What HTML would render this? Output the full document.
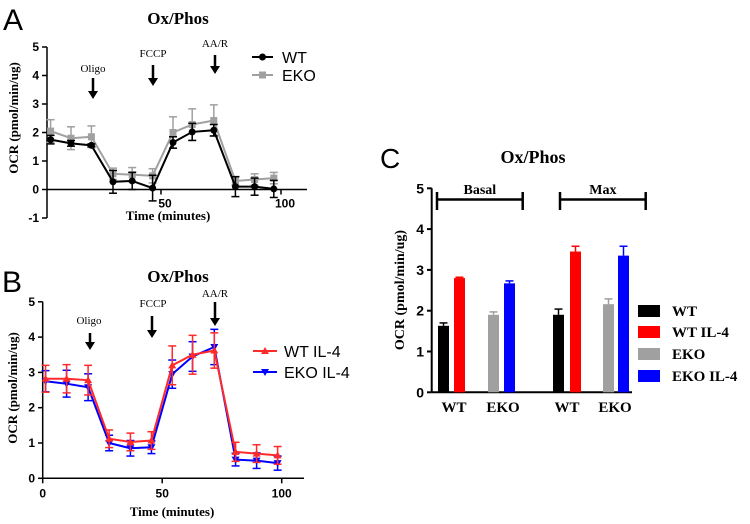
<!DOCTYPE html>
<html><head><meta charset="utf-8"><style>
html,body{margin:0;padding:0;background:#fff}
svg{display:block}
.tk{font-family:"Liberation Sans",Arial,sans-serif}
.sf{font-family:"Liberation Serif",serif}
</style></head><body>
<svg id="chart" width="750" height="524" viewBox="0 0 750 524" xmlns="http://www.w3.org/2000/svg"></svg>
<script>
// Panel A data
const timesA = [4,12.5,21,30,38,46.5,55,63,72,81,89,97];
const wtA = [1.75,1.62,1.55,0.27,0.3,0.05,1.65,2.02,2.08,0.1,0.1,0.02];
const wtAErr = [0.15,0.1,0.05,0.4,0.3,0.45,0.2,0.3,0.2,0.35,0.3,0.3];
const ekoA = [2.05,1.8,1.85,0.55,0.52,0.48,2.0,2.28,2.42,0.3,0.35,0.4];
const ekoAErr = [0.4,0.4,0.38,0.2,0.25,0.25,0.55,0.55,0.55,0.15,0.2,0.2];
const yTicksA = [-1,0,1,2,3,4,5];
const xTicksA = [50,100];
// Panel B data
const timesB = [1.2,10,19,27.8,36.7,45.5,54.2,62.7,71.8,80.7,89.5,98.3];
const wtB = [2.82,2.82,2.78,1.12,1.03,1.07,3.2,3.5,3.62,0.75,0.7,0.65];
const wtBErr = [0.38,0.4,0.42,0.25,0.25,0.25,0.55,0.55,0.5,0.27,0.25,0.25];
const ekoB = [2.75,2.68,2.58,1.0,0.85,0.88,2.95,3.45,3.72,0.53,0.5,0.43];
const ekoBErr = [0.3,0.38,0.38,0.22,0.22,0.18,0.4,0.42,0.5,0.18,0.22,0.2];
const yTicksB = [0,1,2,3,4,5];
const xTicksB = [0,50,100];
// Panel C data
const groupsC = ["Basal","Max"];
const seriesC = ["WT","WT IL-4","EKO","EKO IL-4"];
const colorsC = ["#000000","#ff0000","#a0a0a0","#0000ff"];
const basalVals = [1.63,2.8,1.9,2.67];
const basalErr = [0.07,0.02,0.07,0.06];
const maxVals = [1.9,3.45,2.16,3.35];
const maxErr = [0.14,0.13,0.13,0.23];
const yTicksC = [0,1,2,3,4,5];

const svg = document.getElementById('chart');
const NS = 'http://www.w3.org/2000/svg';
function mk(tag, attrs, parent, text){
  const e = document.createElementNS(NS, tag);
  for (const k in attrs) e.setAttribute(k, attrs[k]);
  if (text !== undefined) e.textContent = text;
  (parent||svg).appendChild(e);
  return e;
}
function txt(x,y,s,cls,size,anchor,name,extra){
  const t = mk('text',Object.assign({x:x,y:y,'class':cls,'font-size':size,'text-anchor':anchor||'middle','font-weight':'bold'},extra||{}),svg,s);
  
  
  return t;
}
function arrow(x,y1,y2,name){
  const g = mk('g',{});
  
  
  mk('line',{x1:x,y1:y1,x2:x,y2:y2-6,stroke:'#000','stroke-width':2.5},g);
  mk('polygon',{points:`${x-5},${y2-8} ${x+5},${y2-8} ${x},${y2}`,fill:'#000'},g);
}
function marker(g,type,x,y,color){
  if(type==='circle') mk('circle',{cx:x,cy:y,r:3.5,fill:color},g);
  else if(type==='square') mk('rect',{x:x-3.5,y:y-3.5,width:7,height:7,fill:color},g);
  else if(type==='up') mk('polygon',{points:`${x-4},${y+3} ${x+4},${y+3} ${x},${y-4}`,fill:color},g);
  else mk('polygon',{points:`${x-4},${y-3} ${x+4},${y-3} ${x},${y+4}`,fill:color},g);
}
function series(xs,ys,errs,sx,sy,color,type,name){
  const g = mk('g',{});
  
  
  xs.forEach((t,i)=>{
    const x=sx(t);
    mk('line',{x1:x,x2:x,y1:sy(ys[i]-errs[i]),y2:sy(ys[i]+errs[i]),stroke:color,'stroke-width':1.5},g);
    [ys[i]-errs[i],ys[i]+errs[i]].forEach(v=>mk('line',{x1:x-4,x2:x+4,y1:sy(v),y2:sy(v),stroke:color,'stroke-width':1.5},g));
  });
  mk('polyline',{points:xs.map((t,i)=>sx(t)+','+sy(ys[i])).join(' '),fill:'none',stroke:color,'stroke-width':2},g);
  xs.forEach((t,i)=>marker(g,type,sx(t),sy(ys[i]),color));
}

// ---------- Panel A ----------
const axA = t => 41 + t*2.4;
const ayA = v => 189.5 - v*28.5;
txt(3,30,'A','tk',30,'start','panel-a-letter',{'font-weight':'normal'});
txt(178,24,'Ox/Phos','sf',17,'middle','panel-a-title');
mk('line',{x1:47,y1:ayA(5),x2:47,y2:ayA(-1),stroke:'#000','stroke-width':1.5});
mk('line',{x1:47,y1:ayA(0),x2:307,y2:ayA(0),stroke:'#000','stroke-width':1.5});
yTicksA.forEach(v=>{mk('line',{x1:42,x2:47,y1:ayA(v),y2:ayA(v),stroke:'#000','stroke-width':1.5});txt(39,ayA(v)+4,String(v),'tk',12,'end','y-tick-a');});
xTicksA.forEach(v=>{mk('line',{x1:axA(v),x2:axA(v),y1:ayA(0),y2:ayA(0)+5,stroke:'#000','stroke-width':1.5});txt(axA(v)+4,ayA(0)+18,String(v),'tk',12,'middle','x-tick-a');});
txt(18,118,'OCR (pmol/min/ug)','sf',13,'middle','y-axis-title-a',{transform:'rotate(-90 18 118)'});
txt(168,220,'Time (minutes)','sf',13,'middle','x-axis-title-a');
txt(93,72,'Oligo','sf',11,'middle','oligo-label-a',{'font-weight':'normal'});
arrow(93,78,99,'oligo-arrow-a');
txt(153,57,'FCCP','sf',11,'middle','fccp-label-a',{'font-weight':'normal'});
arrow(153,65,86,'fccp-arrow-a');
txt(215,47,'AA/R','sf',11,'middle','aar-label-a',{'font-weight':'normal'});
arrow(215,55,74,'aar-arrow-a');
series(timesA,ekoA,ekoAErr,axA,ayA,'#a0a0a0','square','eko-series-a');
series(timesA,wtA,wtAErr,axA,ayA,'#000','circle','wt-series-a');
[['WT','#000','circle',57],['EKO','#a0a0a0','square',75]].forEach(([n,c,t,y])=>{
  const g=mk('g',{});
  
  
  mk('line',{x1:252,x2:273,y1:y,y2:y,stroke:c,'stroke-width':2},g);
  marker(g,t,262.5,y,c);
  mk('text',{x:282,y:y+6,'class':'tk','font-size':16,'font-weight':'normal'},g,n);
});

// ---------- Panel B ----------
const axB = t => 42.7 + t*2.39;
const ayB = v => 478.3 - v*35.3;
txt(2,292,'B','tk',30,'start','panel-b-letter',{'font-weight':'normal'});
txt(178,282,'Ox/Phos','sf',17,'middle','panel-b-title');
mk('line',{x1:42.7,y1:ayB(5),x2:42.7,y2:ayB(0),stroke:'#000','stroke-width':1.5});
mk('line',{x1:42.7,y1:ayB(0),x2:304,y2:ayB(0),stroke:'#000','stroke-width':1.5});
yTicksB.forEach(v=>{mk('line',{x1:38,x2:42.7,y1:ayB(v),y2:ayB(v),stroke:'#000','stroke-width':1.5});txt(35,ayB(v)+4,String(v),'tk',12,'end','y-tick-b');});
xTicksB.forEach(v=>{mk('line',{x1:axB(v),x2:axB(v),y1:ayB(0),y2:ayB(0)+5,stroke:'#000','stroke-width':1.5});txt(axB(v),ayB(0)+19,String(v),'tk',12,'middle','x-tick-b');});
txt(17,388,'OCR (pmol/min/ug)','sf',13,'middle','y-axis-title-b',{transform:'rotate(-90 17 388)'});
txt(172,516,'Time (minutes)','sf',13,'middle','x-axis-title-b');
txt(89,324,'Oligo','sf',11,'middle','oligo-label-b',{'font-weight':'normal'});
arrow(90,333,350,'oligo-arrow-b');
txt(153,307,'FCCP','sf',11,'middle','fccp-label-b',{'font-weight':'normal'});
arrow(152,316,338,'fccp-arrow-b');
txt(215,297,'AA/R','sf',11,'middle','aar-label-b',{'font-weight':'normal'});
arrow(215,302,326,'aar-arrow-b');
series(timesB,ekoB,ekoBErr,axB,ayB,'#0000ff','down','eko-il4-series-b');
series(timesB,wtB,wtBErr,axB,ayB,'#ff2a2a','up','wt-il4-series-b');
[['WT IL-4','#ff2a2a','up',351],['EKO IL-4','#0000ff','down',372]].forEach(([n,c,t,y])=>{
  const g=mk('g',{});
  
  
  mk('line',{x1:253,x2:277,y1:y,y2:y,stroke:c,'stroke-width':2},g);
  marker(g,t,265,y,c);
  mk('text',{x:284,y:y+6,'class':'tk','font-size':16,'font-weight':'normal'},g,n);
});

// ---------- Panel C ----------
const ayC = v => 392.3 - v*40.8;
const barX = [[438,454,488,504],[553,570,603,618]];
const barW = 11;
txt(380,168,'C','tk',28,'start','panel-c-letter',{'font-weight':'normal'});
txt(533,163,'Ox/Phos','sf',18,'middle','panel-c-title');
mk('line',{x1:431.7,y1:ayC(5),x2:431.7,y2:ayC(0),stroke:'#000','stroke-width':2});
mk('line',{x1:431.7,y1:ayC(0),x2:632,y2:ayC(0),stroke:'#000','stroke-width':2});
yTicksC.forEach(v=>{mk('line',{x1:427,x2:431.7,y1:ayC(v),y2:ayC(v),stroke:'#000','stroke-width':2});txt(424,ayC(v)+5,String(v),'tk',14,'end','y-tick-c');});
txt(404,290,'OCR (pmol/min/ug)','sf',14,'middle','y-axis-title-c',{transform:'rotate(-90 404 290)'});
[basalVals,maxVals].forEach((vals,gi)=>{
  const errs = gi===0?basalErr:maxErr;
  vals.forEach((v,si)=>{
    const x=barX[gi][si], c=colorsC[si];
    const r=mk('rect',{x:x,y:ayC(v),width:barW,height:ayC(0)-ayC(v),fill:c});
    
    
    const cx=x+barW/2;
    mk('line',{x1:cx,x2:cx,y1:ayC(v),y2:ayC(v+errs[si]),stroke:c,'stroke-width':1.5});
    mk('line',{x1:cx-4,x2:cx+4,y1:ayC(v+errs[si]),y2:ayC(v+errs[si]),stroke:c,'stroke-width':1.5});
  });
});
[[454,'WT'],[503,'EKO'],[567,'WT'],[615,'EKO']].forEach(([x,s])=>txt(x,412,s,'sf',15,'middle','x-category-label'));
[[437,522.7,'Basal'],[560,645.7,'Max']].forEach(([a,b,s])=>{
  const g=mk('g',{});
  
  
  mk('line',{x1:a,x2:b,y1:199.5,y2:199.5,stroke:'#000','stroke-width':2.5},g);
  mk('line',{x1:a,x2:a,y1:192,y2:210,stroke:'#000','stroke-width':2.5},g);
  mk('line',{x1:b,x2:b,y1:192,y2:210,stroke:'#000','stroke-width':2.5},g);
  mk('text',{x:(a+b)/2,y:194,'class':'sf','font-size':14,'font-weight':'bold','text-anchor':'middle'},g,s);
});
seriesC.forEach((s,i)=>{
  const y=[311,332,354,376][i];
  const g=mk('g',{});
  
  
  mk('rect',{x:638,y:y-6,width:22,height:12,fill:colorsC[i]},g);
  mk('text',{x:672,y:y+5,'class':'sf','font-size':15,'font-weight':'bold'},g,s);
});
</script>
</body></html>
